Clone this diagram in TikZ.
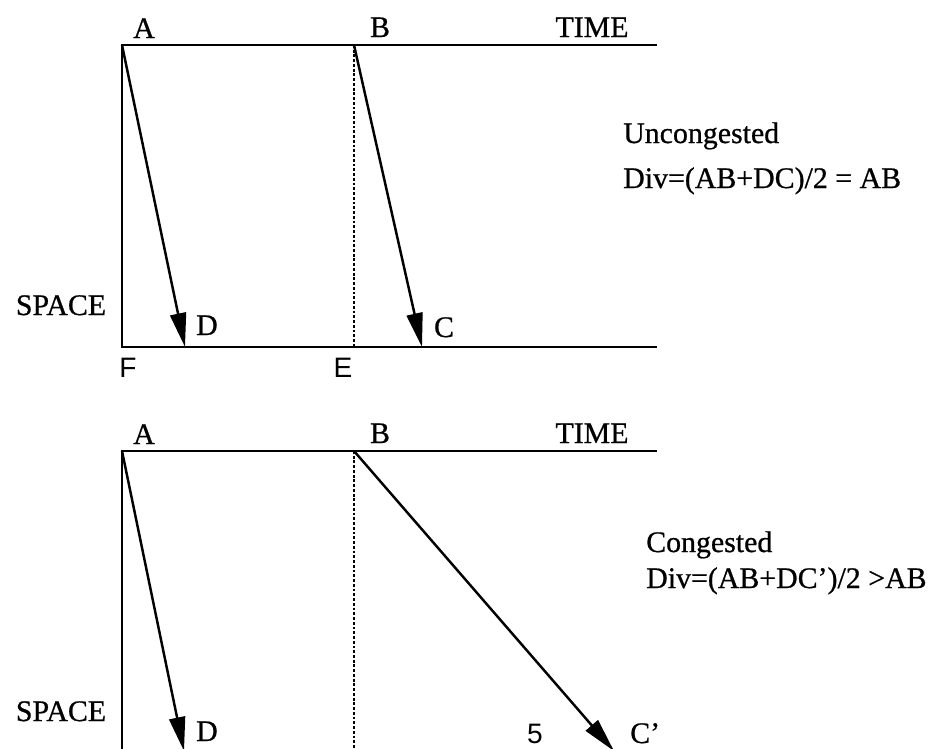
\documentclass[tikz,border=0pt]{standalone}
\usepackage{fontspec}
\setmainfont{Liberation Serif}[FakeBold=0.7]
\newfontfamily\sansfont{Liberation Sans}
\usetikzlibrary{arrows.meta}
\begin{document}
\begin{tikzpicture}[x = 0.02cm, y = -0.02cm, line width = 1.4pt,
		lbl/.style = {font = \fontsize{17}{20}\selectfont, inner sep = 0pt, anchor = base},
		txt/.style = {lbl, anchor = base west},
		slbl/.style = {font = \sansfont\fontsize{16}{19}\selectfont, inner sep = 0pt, anchor = base},
		traj/.style = {-{Triangle[length = 0.68cm, width = 0.32cm]}},
		dashln/.style = {line width = 0.9pt, dash pattern = on 1.6pt off 1.1pt}]
		\useasboundingbox (0,0) rectangle (933,748);
		% uncongested
		\coordinate (A1) at (122,45);
		\coordinate (B1) at (354,45);
		\coordinate (T1) at (657,45);
		\coordinate (F1) at (122,347);
		\coordinate (E1) at (354,347);
		\coordinate (S1) at (657,347);
		\coordinate (D1) at (185,347);
		\coordinate (C1) at (422,347);
		\draw (T1) -- (A1) -- (F1) -- (S1);
		\draw [dashln] (B1) -- (E1);
		\draw [traj] (A1) -- (D1);
		\draw [traj] (B1) -- (C1);
		\node [lbl] (a1) at (144,38) {A};
		\node [lbl] (b1) at (380,37) {B};
		\node [lbl] (time1) at (592,37) {TIME};
		\node [lbl] (space1) at (61,315) {SPACE};
		\node [lbl] (d1) at (207,335) {D};
		\node [lbl] (c1) at (444,337) {C};
		\node [slbl] (f1) at (128,377) {F};
		\node [slbl] (e1) at (343,377) {E};
		\node [txt] (unc) at (622,143) {Uncongested};
		\node [txt] (div1) at (622,188) {Div=(AB+DC)/2 = AB};
		% congested
		\coordinate (A2) at (122,451);
		\coordinate (B2) at (354,451);
		\coordinate (T2) at (657,451);
		\coordinate (F2) at (122,751);
		\coordinate (E2) at (354,751);
		\coordinate (S2) at (657,751);
		\coordinate (D2) at (184,751);
		\coordinate (C2) at (614,751);
		\draw (T2) -- (A2) -- (F2) -- (S2);
		\draw [dashln] (B2) -- (E2);
		\draw [traj] (A2) -- (D2);
		\draw [traj] (B2) -- (C2);
		\node [lbl] (a2) at (144,444) {A};
		\node [lbl] (b2) at (380,443) {B};
		\node [lbl] (time2) at (592,443) {TIME};
		\node [lbl] (space2) at (61,721) {SPACE};
		\node [lbl] (d2) at (207,741) {D};
		\node [txt] (c2) at (629,743) {C'};
		\node [txt] (con) at (645,552) {Congested};
		\node [txt] (div2) at (645,588) {Div=(AB+DC')/2 >AB};
		\node [slbl] (pg) at (535,743) {5};
	\end{tikzpicture}
\end{document}
